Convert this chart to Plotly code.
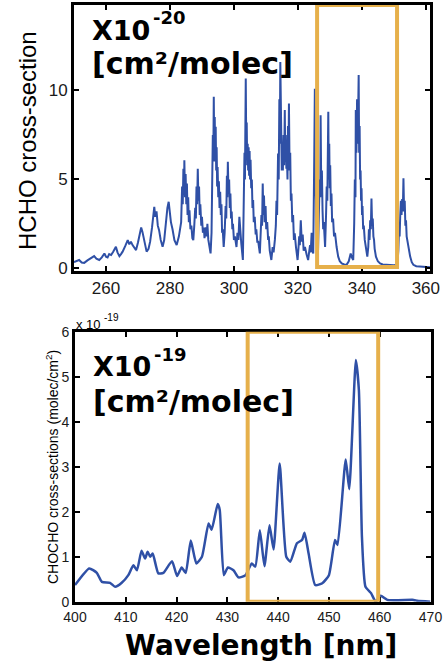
import plotly.graph_objects as go

# ---------------- data ----------------
hcho_wl = [
    250.0, 251.0, 251.6, 252.4, 253.2, 254.2, 255.2, 256.3, 257.0, 257.9, 258.7, 259.5, 260.0, 260.5,
    261.0, 261.6, 262.3, 263.1, 263.6, 264.2, 264.7, 265.2, 266.0, 266.8, 267.3, 267.8, 268.3, 268.9,
    269.4, 270.0, 270.5, 271.0, 271.4, 271.7, 272.2, 272.7, 273.3, 273.8, 274.4, 274.8, 275.1, 275.4,
    275.8, 276.2, 276.6, 277.1, 277.7, 278.2, 278.7, 279.2, 279.6, 280.0, 280.3, 280.8, 281.4, 282.1,
    282.8, 283.5,
    283.8, 284.0, 284.2, 284.4, 284.5, 284.7, 284.9, 285.1, 285.3, 285.5, 285.7, 285.9, 286.1, 286.4,
    286.7, 287.0, 287.3,
    287.6, 287.9, 288.1, 288.3, 288.5, 288.7, 288.9, 289.1, 289.3, 289.5, 289.8, 290.0, 290.3, 290.6,
    290.8, 291.2, 291.5, 291.7, 292.0, 292.3, 292.7,
    293.0, 293.2, 293.4, 293.55, 293.7, 293.85, 294.0, 294.15, 294.3, 294.45, 294.6, 294.75, 294.9, 295.1,
    295.3, 295.5, 295.7, 295.9, 296.1, 296.3, 296.5, 296.8,
    297.1, 297.4, 297.6, 297.8, 297.95, 298.1, 298.3, 298.5, 298.7, 298.9, 299.1, 299.3, 299.5, 299.7,
    300.0, 300.3, 300.6, 300.8, 301.1, 301.4, 301.7, 302.0, 302.3, 302.8,
    303.1, 303.3, 303.45, 303.6, 303.7, 303.85, 304.0, 304.15, 304.3, 304.45, 304.6, 304.75, 304.9, 305.05,
    305.2, 305.4, 305.6, 305.8, 306.0, 306.2, 306.5, 306.8, 307.0, 307.3, 307.6, 308.1,
    308.4, 308.6, 308.8, 309.0, 309.2, 309.4, 309.6, 309.9, 310.1, 310.4, 310.7, 310.9, 311.2, 311.7,
    312.1, 312.4, 312.8, 313.1, 313.3, 313.5, 313.8, 314.0, 314.2, 314.35, 314.5, 314.65, 314.8, 314.95,
    315.1, 315.3, 315.5, 315.7, 315.9, 316.05, 316.2, 316.4, 316.6, 316.75, 316.9, 317.05, 317.2, 317.4,
    317.6, 317.8, 318.0, 318.25, 318.5, 318.75, 319.0, 319.4, 319.9,
    320.2, 320.4, 320.6, 320.9, 321.2, 321.5, 321.8, 322.2, 322.7, 323.2, 323.5, 323.8, 324.0, 324.3,
    324.6, 324.8,
    325.1, 325.3, 325.5, 325.7, 325.9, 326.3,
    326.6, 326.8, 327.0, 327.1, 327.3, 327.5, 327.7, 327.9, 328.1, 328.3, 328.5, 328.8, 329.0, 329.2,
    329.5, 329.65, 329.8, 329.95, 330.1, 330.3, 330.5, 330.7, 331.0, 331.3, 331.6, 332.1, 332.6, 333.1,
    333.7, 334.5, 335.2, 335.9, 336.5, 336.9, 337.3,
    337.6, 337.8, 338.0, 338.1, 338.3, 338.5, 338.7, 339.0, 339.15, 339.3, 339.45, 339.6, 339.75, 339.9,
    340.05, 340.2, 340.4, 340.6, 340.9, 341.3, 341.7,
    342.0, 342.2, 342.4, 342.6, 342.8, 343.0, 343.2, 343.4, 343.6, 343.8, 344.0, 344.4, 345.0, 345.7,
    346.5, 347.5, 348.8, 350.0, 351.1,
    351.4, 351.6, 351.8, 352.0, 352.2, 352.4, 352.6, 352.8, 353.0, 353.2, 353.4, 353.6, 353.8, 354.0,
    354.2, 354.6, 355.1, 355.6, 356.1, 357.0, 358.2, 359.5, 360.8, 361.3]
hcho_val = [
    0.35, 0.42, 0.47, 0.33, 0.31, 0.45, 0.55, 0.69, 0.55, 0.47, 0.62, 0.84, 0.66, 0.62,
    0.80, 0.75, 0.95, 1.21, 0.90, 0.69, 0.80, 0.94, 1.25, 1.59, 1.35, 1.50, 1.31, 1.15,
    1.03, 1.45, 1.95, 2.30, 2.05, 1.78, 1.20, 0.94, 1.10, 1.50, 2.30, 3.10, 3.46, 2.90,
    3.20, 2.40, 2.15, 1.60, 1.21, 1.59, 2.60, 3.40, 3.74, 3.10, 2.60, 2.20, 1.59, 1.31,
    1.80, 2.60,
    4.60, 3.60, 5.60, 4.20, 6.08, 4.00, 5.30, 3.60, 4.77, 3.00, 4.00, 2.60, 3.27, 2.20,
    2.40, 1.70, 1.59,
    2.40, 3.40, 2.80, 4.60, 3.60, 5.60, 3.80, 4.60, 3.00, 3.60, 2.40, 2.90, 2.00, 2.30,
    1.70, 2.30, 1.80, 2.50, 1.60, 1.20, 0.84,
    2.00, 4.50, 7.50, 6.00, 9.64, 6.50, 8.50, 6.00, 7.96, 5.50, 6.80, 4.60, 5.70, 4.00,
    4.90, 3.40, 4.30, 3.00, 3.60, 2.00, 2.20, 1.20,
    2.00, 3.50, 2.80, 5.20, 4.00, 5.99, 4.20, 5.00, 3.40, 4.20, 2.80, 3.20, 2.20, 2.50,
    1.60, 1.80, 1.20, 1.20, 2.00, 1.60, 2.90, 1.80, 1.40, 0.47,
    3.00, 6.50, 5.00, 9.00, 10.67, 7.00, 8.20, 5.80, 7.00, 5.50, 6.80, 5.20, 6.60, 5.00,
    6.10, 4.50, 5.00, 3.40, 3.84, 2.60, 2.90, 1.90, 2.20, 1.50, 1.50, 0.84,
    1.80, 3.00, 2.40, 4.77, 3.00, 4.10, 2.60, 3.50, 2.20, 2.60, 1.60, 1.80, 1.00, 0.47,
    1.20, 0.90, 1.60, 2.40, 3.80, 3.00, 6.46, 5.00, 9.50, 7.00, 11.60, 7.50, 8.00, 5.50,
    6.50, 5.50, 7.50, 5.80, 8.90, 6.00, 7.50, 5.60, 6.10, 5.00, 8.00, 6.00, 9.27, 5.50,
    6.50, 3.80, 4.20, 2.60, 3.00, 1.60, 1.97, 1.20, 0.47,
    1.20, 1.80, 1.30, 2.70, 1.50, 1.90, 1.00, 1.20, 0.80, 0.47, 0.90, 1.30, 0.90, 2.00,
    1.00, 0.84,
    6.00, 10.10, 5.00, 3.00, 2.00, 1.00,
    3.00, 5.00, 4.00, 8.60, 4.50, 5.50, 3.30, 2.20, 2.60, 1.50, 1.20, 3.00, 4.60, 3.80,
    8.80, 5.00, 7.00, 4.50, 5.80, 3.50, 4.20, 2.60, 2.80, 1.80, 2.00, 1.20, 0.66, 0.40,
    0.28, 0.22, 0.20, 0.40, 0.84, 0.60, 0.47,
    2.50, 5.00, 4.00, 8.90, 6.50, 9.50, 7.00, 10.86, 6.50, 8.00, 5.00, 5.50, 3.80, 4.50,
    3.00, 3.50, 2.20, 2.40, 1.60, 1.00, 0.66,
    1.20, 2.20, 1.60, 2.70, 2.20, 3.93, 2.40, 2.80, 1.80, 1.60, 1.10, 0.66, 0.40, 0.28,
    0.22, 0.20, 0.20, 0.18, 0.20,
    1.00, 2.20, 1.80, 3.00, 3.80, 3.00, 3.90, 3.20, 5.06, 3.20, 3.80, 2.40, 2.70, 1.80,
    1.60, 1.10, 0.66, 0.35, 0.20, 0.12, 0.10, 0.08, 0.07, 0.07]

chocho_wl = [400.0, 402.8, 404.3, 405.3, 406.9, 407.9, 409.2, 410.5, 411.5, 412.2, 413.1, 413.8, 414.3,
             414.8, 415.3, 416.4, 417.4, 419.1, 420.1, 421.0, 421.8, 422.8, 423.9, 425.0, 426.3, 426.9,
             428.1, 428.5, 429.3, 430.1, 431.2, 432.2, 433.5, 434.8, 435.5, 436.4, 437.3, 438.3, 439.1,
             440.3, 441.6, 442.4, 443.7, 444.7, 445.2, 446.0, 447.3, 448.7, 450.0, 451.2, 451.7, 453.3,
             454.0, 455.3, 455.9, 456.5, 457.2, 458.3, 459.2, 460.2, 461.5, 466.7, 467.4, 470.0]
chocho_val = [0.37, 0.74, 0.64, 0.44, 0.42, 0.33, 0.42, 0.59, 0.81, 0.70, 1.13, 0.96, 1.11,
              1.00, 1.07, 0.63, 0.64, 0.90, 0.57, 0.76, 0.64, 1.36, 0.85, 1.00, 1.74, 1.60,
              2.17, 2.04, 0.59, 0.76, 0.70, 0.54, 0.58, 0.85, 0.78, 1.59, 0.79, 1.70, 1.16,
              3.07, 1.00, 0.89, 1.30, 1.37, 1.53, 1.07, 0.37, 0.41, 0.59, 1.37, 1.26, 3.16,
              2.50, 5.37, 4.70, 1.44, 0.33, 0.19, 0.00, 0.13, 0.04, 0.04, 0.02, 0.00]

hcho_ticks = [260, 280, 300, 320, 340, 360]
hcho_yticks = [0, 5, 10]
chocho_ticks = [400, 410, 420, 430, 440, 450, 460, 470]
chocho_yticks = [0, 1, 2, 3, 4, 5, 6]

hcho_box = [326.0, 351.0]
chocho_box = [434.0, 459.7]

# ---------------- figure ----------------
W, H = 444, 661
BLUE = "#2F50A6"
ORANGE = "#E6B04B"

fig = go.Figure()
fig.add_trace(go.Scatter(x=hcho_wl, y=hcho_val, mode="lines",
                         line=dict(color=BLUE, width=2), xaxis="x", yaxis="y",
                         showlegend=False, hoverinfo="skip"))
fig.add_trace(go.Scatter(x=chocho_wl, y=chocho_val, mode="lines",
                         line=dict(color=BLUE, width=2.5, shape="spline", smoothing=0.5),
                         xaxis="x2", yaxis="y2", showlegend=False, hoverinfo="skip"))

def px(x):
    return x / W

def py(y):
    return 1 - y / H

axis_common = dict(showline=True, linewidth=3, linecolor="black", mirror="ticks",
                   ticks="inside", ticklen=5, tickwidth=2, tickcolor="black",
                   showgrid=False, zeroline=False, automargin=False)

fig.update_layout(
    width=W, height=H, autosize=False,
    margin=dict(l=0, r=0, t=0, b=0, pad=0, autoexpand=False),
    paper_bgcolor="white", plot_bgcolor="white",
    xaxis=dict(domain=[px(74), px(430)], range=[250, 361.3], tickvals=hcho_ticks,
               anchor="y", tickfont=dict(family="Liberation Sans", size=17, color="#1a1a1a"),
               **axis_common),
    yaxis=dict(domain=[py(270.7), py(5)], range=[-0.13, 14.8], tickvals=hcho_yticks,
               anchor="x", tickfont=dict(family="Liberation Sans", size=17, color="#1a1a1a"),
               **axis_common),
    xaxis2=dict(domain=[px(75), px(430.5)], range=[400, 470], tickvals=chocho_ticks,
                anchor="y2", tickfont=dict(family="Liberation Sans", size=14, color="#1a1a1a"),
                **axis_common),
    yaxis2=dict(domain=[py(601.7), py(331.7)], range=[0, 6], tickvals=chocho_yticks,
                anchor="x2", tickfont=dict(family="Liberation Sans", size=14, color="#1a1a1a"),
                **axis_common),
)

fig.add_shape(type="rect", xref="x", yref="y", x0=hcho_box[0], x1=hcho_box[1], y0=0.08, y1=14.8,
              line=dict(color=ORANGE, width=4), layer="above")
fig.add_shape(type="rect", xref="x2", yref="y2", x0=chocho_box[0], x1=chocho_box[1], y0=0, y1=6,
              line=dict(color=ORANGE, width=4), layer="above")

BOLD = "DejaVu Sans"

def ann(text, x, y, size, family="Liberation Sans", bold=False, xanchor="left", angle=0):
    t = f"<b>{text}</b>" if bold else text
    fig.add_annotation(text=t, x=px(x), y=py(y), xref="paper", yref="paper",
                       xanchor=xanchor, yanchor="middle", showarrow=False, textangle=angle,
                       font=dict(family=family, size=size, color="black"))

# top panel labels
ann("X10", 90, 30, 27, BOLD, True)
ann("-20", 151, 17, 18, BOLD, True)
ann("[cm²/molec]", 90, 63, 30, BOLD, True)
ann("HCHO cross-section", 28, 141, 24, xanchor="center", angle=-90)

# bottom panel labels
ann("X10", 91, 366, 27, BOLD, True)
ann("-19", 152, 354, 18, BOLD, True)
ann("[cm²/molec]", 91, 401, 30, BOLD, True)
ann("x 10", 74, 325, 13)
ann("-19", 102, 317, 10)
ann("CHOCHO cross-sections (molec/cm<sup>2</sup>)", 52, 467, 14, xanchor="center", angle=-90)

ann("Wavelength [nm]", 261, 645, 28, BOLD, True, xanchor="center")

fig.write_html("out.html", config={"displayModeBar": False},
               post_script="document.body.style.margin='0';document.body.style.overflow='hidden';")
